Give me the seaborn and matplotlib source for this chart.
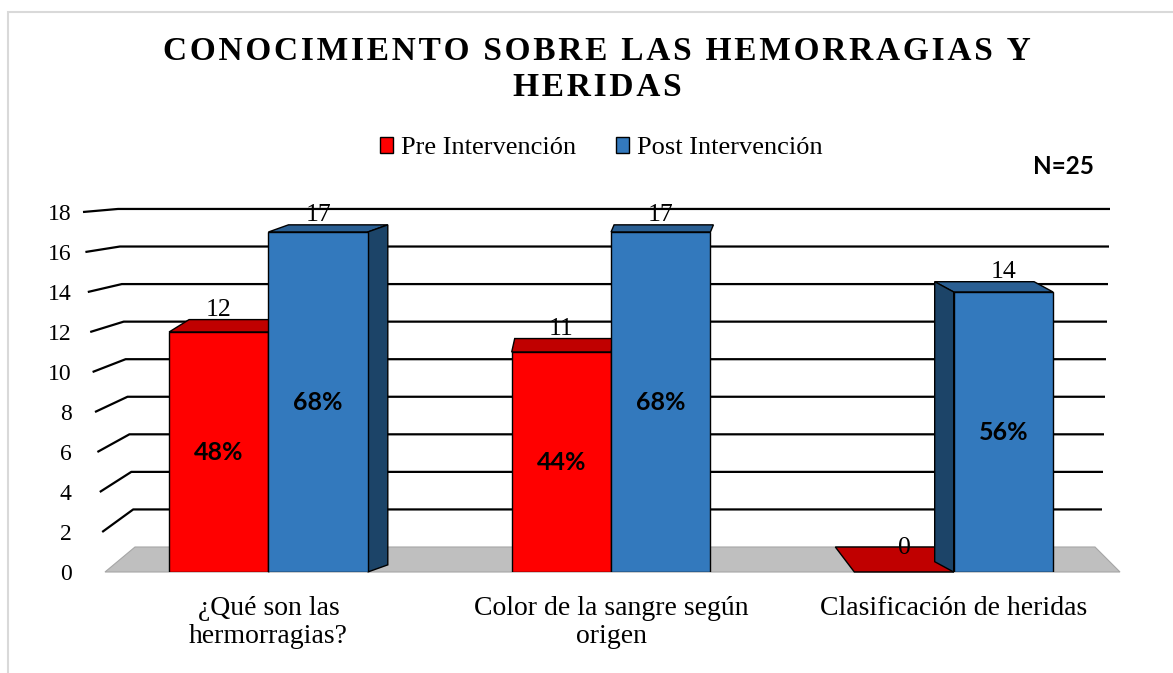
import numpy as np
import pandas as pd
import matplotlib
matplotlib.use('Agg')
import matplotlib.pyplot as plt
import seaborn as sns
from matplotlib.patches import Polygon, Rectangle

# datos del gráfico
categorias = ['¿Qué son las\nhermorragias?', 'Color de la sangre según\norigen', 'Clasificación de heridas']
series = ['Pre Intervención', 'Post Intervención']
pre_valores = [12, 11, 0]
post_valores = [17, 17, 14]
pre_pct = ['48%', '44%', '']
post_pct = ['68%', '68%', '56%']
y_ticks = [0, 2, 4, 6, 8, 10, 12, 14, 16, 18]
titulo = ['CONOCIMIENTO SOBRE LAS HEMORRAGIAS Y', 'HERIDAS']

colores = {'Pre Intervención': '#FF0000', 'Post Intervención': '#3379BD'}
colores_sup = {'Pre Intervención': '#C00000', 'Post Intervención': '#2A5F93'}
colores_lado = {'Pre Intervención': '#A00000', 'Post Intervención': '#1C4468'}

sns.set_style('white')
plt.rcParams['font.family'] = ['Liberation Serif', 'DejaVu Serif']
plt.rcParams['text.color'] = 'black'
plt.rcParams['xtick.color'] = 'black'
plt.rcParams['ytick.color'] = 'black'

df = pd.DataFrame({
    'pregunta': categorias * 2,
    'momento': [series[0]] * 3 + [series[1]] * 3,
    'n': pre_valores + post_valores,
})
etiquetas_pct = {series[0]: pre_pct, series[1]: post_pct}

W, H = 1173, 673
fig = plt.figure(figsize=(W / 100, H / 100), dpi=100)
ax = fig.add_axes([80 / W, 1 - 572 / H, 1045 / W, 360 / H])
ax.set_facecolor('none')

sns.barplot(data=df, x='pregunta', y='n', hue='momento', order=categorias,
            hue_order=series, palette=colores, width=0.58, gap=0,
            saturation=1, edgecolor='black', linewidth=1, legend=False,
            ax=ax, zorder=3)

x0_lim, x1_lim = -0.55, 2.5
ax.set_xlim(x0_lim, x1_lim)
ax.set_ylim(0, 18)
px_x = 1045 / (x1_lim - x0_lim)
px_y = 20.0


def xd(p):
    # pixel horizontal -> coordenada de datos
    return x0_lim + (p - 80) / px_x


# piso gris
ax.fill([xd(105), xd(1120), xd(1095), xd(135)], [0, 0, 1.25, 1.25],
        facecolor='#BFBFBF', edgecolor='#A6A6A6', lw=0.8, zorder=1, clip_on=False)

# lineas de la pared de fondo con su perspectiva
for v in y_ticks[1:]:
    yb = 1.25 + v * 0.939
    xf = xd(83 + (18 - v) * 1.2)
    xb = xd(118 + (18 - v) * 0.95)
    xr = xd(1110 - (18 - v) * 0.5)
    ax.plot([xf, xb, xr], [v, yb, yb], color='black', lw=1.6, zorder=1.5,
            clip_on=False, solid_capstyle='butt')

# caras 3D de las barras
desp_x = [20, 3, -19]
for serie, cont in zip(series, ax.containers):
    for i, bar in enumerate(cont.patches):
        x0, w, h = bar.get_x(), bar.get_width(), bar.get_height()
        dx = desp_x[i] / px_x
        dy = (25 - 1.05 * h) / px_y
        sup = [(x0, h), (x0 + w, h), (x0 + w + dx, h + dy), (x0 + dx, h + dy)]
        ax.add_patch(Polygon(sup, closed=True, facecolor=colores_sup[serie],
                             edgecolor='black', lw=1, zorder=2, clip_on=False))
        if h > 0 and abs(desp_x[i]) > 5:
            xe = x0 + w if dx > 0 else x0
            lado = [(xe, 0), (xe, h), (xe + dx, h + dy), (xe + dx, dy)]
            ax.add_patch(Polygon(lado, closed=True, facecolor=colores_lado[serie],
                                 edgecolor='black', lw=1, zorder=2.5, clip_on=False))
        y_lab = h + dy + 0.5 if h > 0 else dy * 0.95
        ax.text(x0 + w / 2, y_lab, f'{h:.0f}', ha='center', va='center',
                fontsize=18.5, zorder=5)
        pct = etiquetas_pct[serie][i]
        if pct:
            ax.text(x0 + w / 2, h / 2, pct, ha='center', va='center',
                    fontsize=18, fontweight='bold', family=['Lato', 'DejaVu Sans'],
                    zorder=5)

ax.set_yticks(y_ticks)
ax.set_yticklabels([str(v) for v in y_ticks])
ax.tick_params(axis='y', length=0, pad=6, labelsize=17)
ax.tick_params(axis='x', length=0, pad=17, labelsize=20)
for lab in ax.get_xticklabels():
    lab.set_linespacing(1.2)
ax.set_xlabel('')
ax.set_ylabel('')
for s in ax.spines.values():
    s.set_visible(False)

# leyenda
handles = [c.patches[0] for c in ax.containers]
fig.legend(handles, series, loc='center', bbox_to_anchor=(601 / W, 1 - 148 / H),
           ncol=2, frameon=False, fontsize=19, handlelength=0.5, handleheight=0.6,
           handletextpad=0.3, columnspacing=1.5)

# titulo con espaciado entre letras
for k, linea in enumerate(titulo):
    fig.text(597 / W, 1 - (51 + 37 * k) / H, '\u200a'.join(linea), ha='center',
             va='center', fontsize=24, fontweight='bold')

fig.text(1063 / W, 1 - 167 / H, 'N=25', ha='center', va='center', fontsize=17.5,
         fontweight='bold', family=['Lato', 'DejaVu Sans'])

fig.add_artist(Rectangle((8 / W, -0.05), 1.1, 1.05 - 12 / H, transform=fig.transFigure,
                         fill=False, edgecolor='#D9D9D9', lw=1.5))

fig.savefig('out.png', dpi=100)
